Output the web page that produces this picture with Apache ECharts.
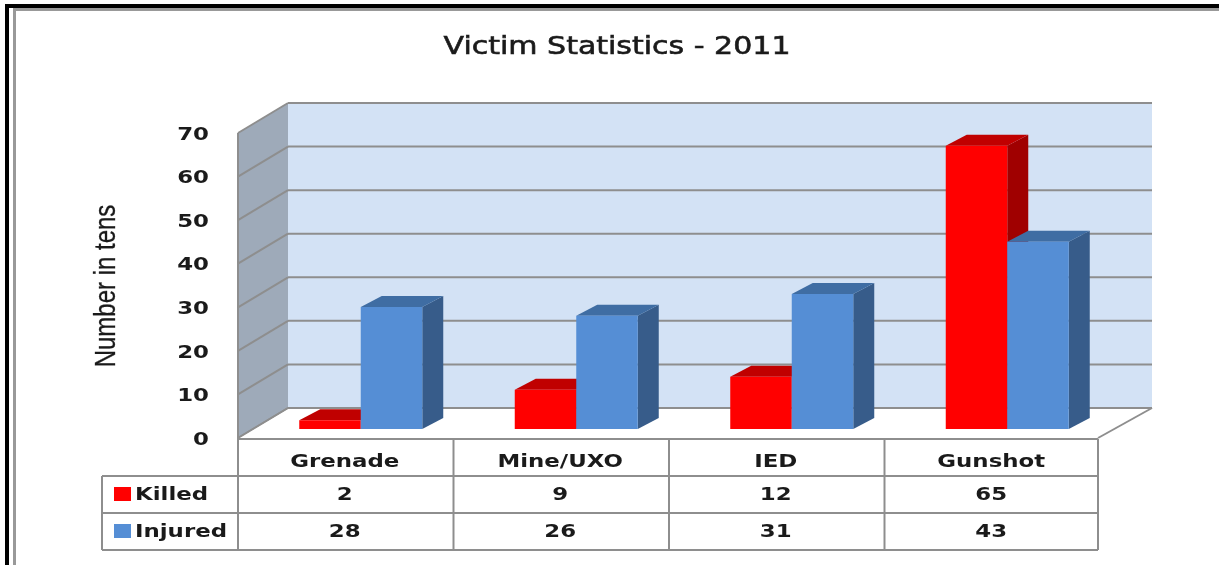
<!DOCTYPE html>
<html>
<head>
<meta charset="utf-8">
<style>
  html, body { margin: 0; padding: 0; background: #fff; }
  #main { width: 1219px; height: 565px; }
</style>
<script src="https://cdn.jsdelivr.net/npm/echarts@6/dist/echarts.min.js"></script>
</head>
<body>
<div id="main"></div>
<script>
const categories = ['Grenade', 'Mine/UXO', 'IED', 'Gunshot']
const killed = [2, 9, 12, 65]
const injured = [28, 26, 31, 43]
const yTicks = [0, 10, 20, 30, 40, 50, 60, 70]

const gray = '#8e8e8e'
const labelFont = { fontFamily: 'DejaVu Sans', fontWeight: 'bold', fontSize: 18, fill: '#1a1a1a' }
const wide = 1.27

const wallDx = 50
const wallDy = -30
const barDx = 15
const barDy = -9
const barW = 61.5
const depthDx = 21
const depthDy = -11
const wallRight = 1152
const tableRight = 1098

function poly (points, fill) {
  return { type: 'polygon', shape: { points }, style: { fill } }
}
function line (x1, y1, x2, y2, w) {
  return {
    type: 'line',
    shape: { x1, y1, x2, y2 },
    style: { stroke: gray, lineWidth: w || 2 }
  }
}
function label (text, x, y, align) {
  return {
    type: 'text',
    x,
    y,
    scaleX: wide,
    style: Object.assign({ text, x: 0, y: 0, align: align || 'center', verticalAlign: 'middle' }, labelFont)
  }
}

function renderWalls (params, api) {
  const band = api.size([1, 0])[0]
  const left = api.coord([0, 0])[0] - band / 2
  const y0 = api.coord([0, 0])[1]
  const yTop = api.coord([0, 70])[1]
  const children = [
    poly([[left, yTop], [left + wallDx, yTop + wallDy], [left + wallDx, y0 + wallDy], [left, y0]], '#9eaab9'),
    poly([[left + wallDx, yTop + wallDy], [wallRight, yTop + wallDy], [wallRight, y0 + wallDy], [left + wallDx, y0 + wallDy]], '#d3e2f5'),
    line(left, yTop, left, y0 + 1)
  ]
  yTicks.forEach((t) => {
    const y = api.coord([0, t])[1]
    children.push(line(left, y, left + wallDx, y + wallDy))
    children.push(line(left + wallDx, y + wallDy, wallRight, y + wallDy))
    children.push(label(String(t), left - 29, y + 2, 'right'))
  })
  // floor
  children.push(poly([[left + 1, y0], [left + wallDx, y0 + wallDy + 1], [wallRight, y0 + wallDy + 1], [tableRight, y0]], '#ffffff'))
  children.push(line(left, y0, left + wallDx, y0 + wallDy))
  children.push(line(left + wallDx, y0 + wallDy, wallRight, y0 + wallDy))
  children.push(line(tableRight, y0, wallRight, y0 + wallDy))
  return { type: 'group', children }
}

function barRenderer (side, front, top, shade) {
  return function (params, api) {
    const cat = api.value(0)
    const base = api.coord([cat, 0])
    const peak = api.coord([cat, api.value(1)])
    const x0 = base[0] + barDx + (side < 0 ? -barW : 0)
    const x1 = x0 + barW
    const yb = base[1] + barDy
    const yt = peak[1] + barDy
    return {
      type: 'group',
      children: [
        poly([[x1, yt], [x1 + depthDx, yt + depthDy], [x1 + depthDx, yb + depthDy], [x1, yb]], shade),
        poly([[x0, yt], [x0 + depthDx, yt + depthDy], [x1 + depthDx, yt + depthDy], [x1, yt]], top),
        poly([[x0, yt], [x1, yt], [x1, yb], [x0, yb]], front)
      ]
    }
  }
}

function renderTable (params, api) {
  const band = api.size([1, 0])[0]
  const left = api.coord([0, 0])[0] - band / 2
  const y0 = api.coord([0, 0])[1]
  const tableLeft = left - 136
  const rows = [y0 + 1, y0 + 38, y0 + 75, y0 + 112]
  const children = [line(left, rows[0], tableRight, rows[0])]
  children.push(line(tableLeft, rows[1], tableRight, rows[1]))
  children.push(line(tableLeft, rows[2], tableRight, rows[2]))
  children.push(line(tableLeft, rows[3], tableRight, rows[3]))
  children.push(line(tableLeft, rows[1], tableLeft, rows[3]))
  for (let i = 0; i < categories.length; i++) {
    children.push(line(left + band * i, rows[0], left + band * i, rows[3]))
  }
  children.push(line(tableRight, rows[0], tableRight, rows[3]))
  categories.forEach((name, i) => {
    const cx = left + band * (i + 0.5) - 1
    children.push(label(name, cx, y0 + 24))
    children.push(label(String(killed[i]), cx, y0 + 57))
    children.push(label(String(injured[i]), cx, y0 + 94))
  })
  children.push({ type: 'rect', shape: { x: tableLeft + 12, y: y0 + 49, width: 17, height: 14 }, style: { fill: '#ff0000' } })
  children.push({ type: 'rect', shape: { x: tableLeft + 12, y: y0 + 86, width: 17, height: 14 }, style: { fill: '#558ed5' } })
  children.push(label('Killed', tableLeft + 33, y0 + 57, 'left'))
  children.push(label('Injured', tableLeft + 33, y0 + 94, 'left'))
  return { type: 'group', children }
}

const myChart = echarts.init(document.getElementById('main'), null, { renderer: 'canvas' })
myChart.setOption({
  animation: false,
  backgroundColor: '#ffffff',
  grid: { left: 238, top: 133, width: 862, height: 305 },
  xAxis: {
    type: 'category',
    data: categories,
    axisLine: { show: false },
    axisTick: { show: false },
    axisLabel: { show: false }
  },
  yAxis: {
    type: 'value',
    min: 0,
    max: 70,
    interval: 10,
    splitLine: { show: false },
    axisLine: { show: false },
    axisTick: { show: false },
    axisLabel: { show: false }
  },
  graphic: [
    // picture frame
    { type: 'rect', shape: { x: 5, y: 4, width: 1214, height: 4 }, style: { fill: '#000' } },
    { type: 'rect', shape: { x: 5, y: 4, width: 4, height: 561 }, style: { fill: '#000' } },
    { type: 'rect', shape: { x: 13, y: 8, width: 1206, height: 3 }, style: { fill: '#999' } },
    { type: 'rect', shape: { x: 13, y: 8, width: 3, height: 557 }, style: { fill: '#999' } },
    {
      type: 'text',
      x: 617,
      y: 47,
      scaleX: 1.2,
      style: {
        text: 'Victim Statistics - 2011',
        x: 0,
        y: 0,
        align: 'center',
        verticalAlign: 'middle',
        fontFamily: 'DejaVu Sans',
        fontSize: 25,
        fill: '#1a1a1a',
        stroke: '#1a1a1a',
        lineWidth: 0.6
      }
    },
    {
      type: 'text',
      x: 107,
      y: 286,
      rotation: Math.PI / 2,
      scaleX: 0.8,
      style: {
        text: 'Number in tens',
        x: 0,
        y: 0,
        align: 'center',
        verticalAlign: 'middle',
        fontFamily: 'Liberation Sans',
        fontSize: 30,
        fill: '#1a1a1a',
        stroke: '#1a1a1a',
        lineWidth: 0.3
      }
    }
  ],
  series: [
    { type: 'custom', name: 'walls', silent: true, z: 1, data: [[0, 0]], renderItem: renderWalls },
    {
      type: 'custom',
      name: 'Killed',
      z: 2,
      data: killed.map((v, i) => [i, v]),
      itemStyle: { color: '#ff0000' },
      renderItem: barRenderer(-1, '#ff0000', '#c00000', '#a00000')
    },
    {
      type: 'custom',
      name: 'Injured',
      z: 3,
      data: injured.map((v, i) => [i, v]),
      itemStyle: { color: '#558ed5' },
      renderItem: barRenderer(1, '#558ed5', '#3f6da3', '#375c8a')
    },
    { type: 'custom', name: 'table', silent: true, z: 4, data: [[0, 0]], renderItem: renderTable }
  ]
})
</script>
</body>
</html>
